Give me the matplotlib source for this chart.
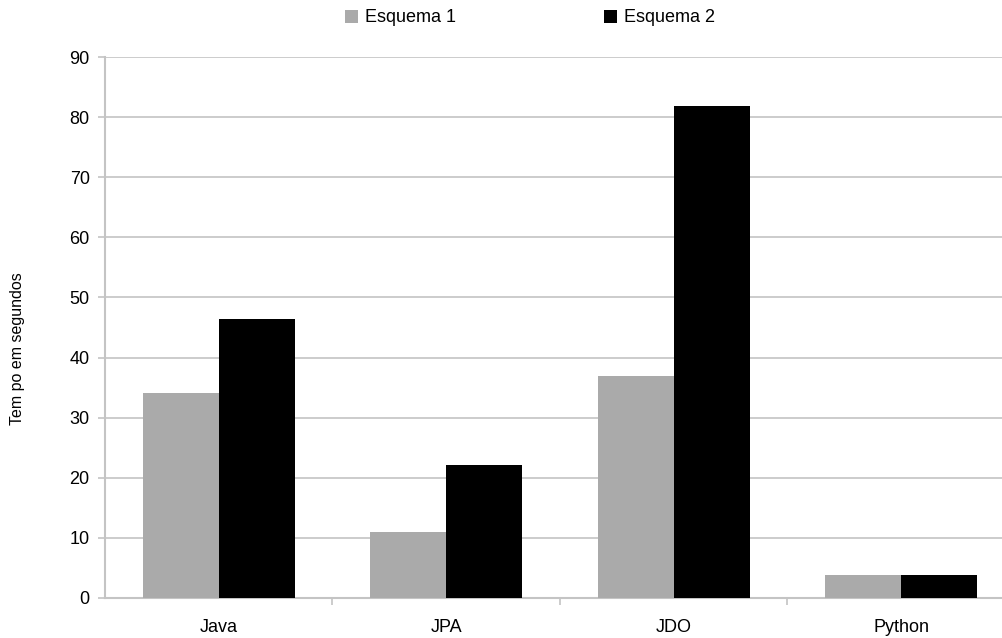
import matplotlib.pyplot as plt
import numpy as np

plt.rcParams['font.family'] = ['Liberation Sans', 'DejaVu Sans']

linguagens = ["Java", "JPA", "JDO", "Python"]
esquema1 = [34.1, 11.0, 36.9, 3.8]
esquema2 = [46.4, 22.2, 81.9, 3.8]
y_ticks = [0, 10, 20, 30, 40, 50, 60, 70, 80, 90]

cinza = "#c4c4c4"

fig = plt.figure(figsize=(10.03, 6.38), dpi=100)
ax = fig.add_axes([105 / 1003, 40 / 638, 910 / 1003, 541 / 638])

x = np.arange(len(linguagens))
w = 0.334
ax.bar(x - w / 2, esquema1, w, color="#aaaaaa", label="Esquema 1", zorder=3)
ax.bar(x + w / 2, esquema2, w, color="#000000", label="Esquema 2", zorder=3)

ax.set_xlim(-0.5, 3.5)
ax.set_ylim(0, 90)
ax.set_yticks(y_ticks)
ax.yaxis.grid(True, color=cinza, linewidth=1.2, zorder=0)

ax.set_xticks(x)
ax.set_xticklabels(linguagens)
ax.set_xticks([0.5, 1.5, 2.5], minor=True)
ax.tick_params(axis="x", which="major", length=0, pad=15, labelsize=13)
ax.tick_params(axis="x", which="minor", length=5, color=cinza, width=1.2)
ax.tick_params(axis="y", length=5, color=cinza, width=1.2, pad=6, labelsize=13)

for s in ["top", "right"]:
    ax.spines[s].set_visible(False)
for s in ["left", "bottom"]:
    ax.spines[s].set_color(cinza)
    ax.spines[s].set_linewidth(1.5)

fig.text(18 / 1003, 1 - 349 / 638, "Tem po em segundos", rotation=90,
         fontsize=11.5, ha="center", va="center")

fig.legend(loc="center left", bbox_to_anchor=(345 / 1003, 1 - 18 / 638), ncol=2,
           frameon=False, fontsize=13, borderpad=0, borderaxespad=0,
           handlelength=0.7, handleheight=0.7, handletextpad=0.4,
           columnspacing=8.2)

fig.savefig("out.png", dpi=100)
